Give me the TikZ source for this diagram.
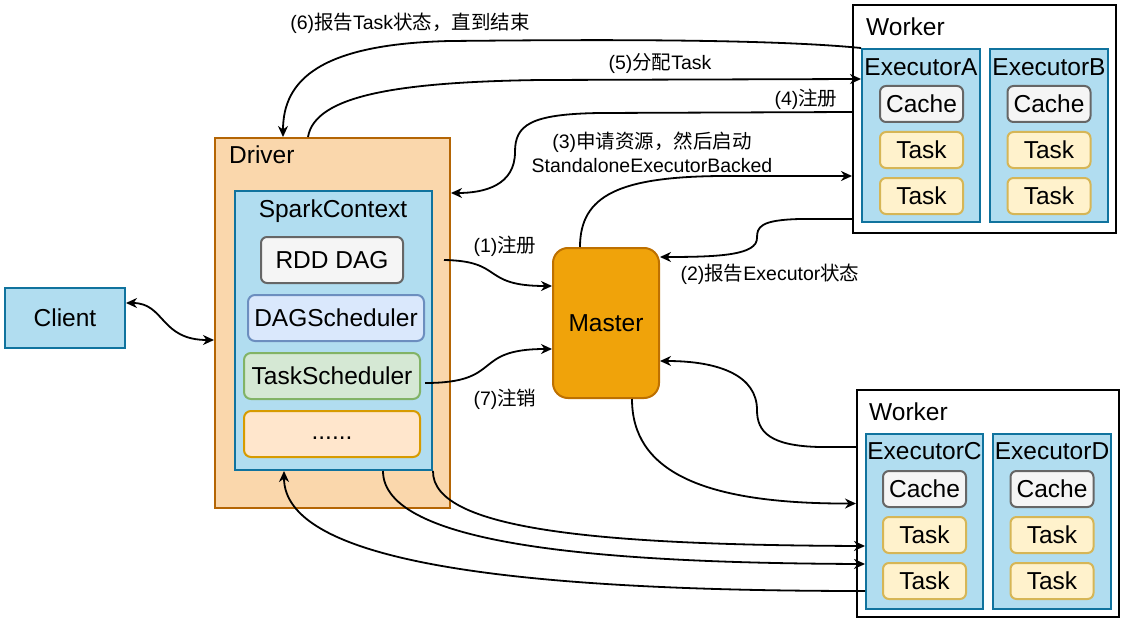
\documentclass[tikz,border=0pt]{standalone}
\usepackage{fontspec}
\setmainfont{Liberation Sans}
\newfontfamily\cjk{Noto Sans CJK SC}
\usetikzlibrary{arrows.meta}
\definecolor{lbF}{HTML}{B1DDF0}\definecolor{lbS}{HTML}{10739E}
\definecolor{drF}{HTML}{FAD7AC}\definecolor{drS}{HTML}{B46504}
\definecolor{msF}{HTML}{F0A30A}\definecolor{msS}{HTML}{BD7000}
\definecolor{gyF}{HTML}{F5F5F5}\definecolor{gyS}{HTML}{666666}
\definecolor{dgF}{HTML}{DAE8FC}\definecolor{dgS}{HTML}{6C8EBF}
\definecolor{grF}{HTML}{D5E8D4}\definecolor{grS}{HTML}{82B366}
\definecolor{orF}{HTML}{FFE6CC}\definecolor{orS}{HTML}{D79B00}
\definecolor{tkF}{HTML}{FFF2CC}\definecolor{tkS}{HTML}{D6B656}
\newcommand\nodefont{\fontsize{24.5}{29}\selectfont}
\newcommand\labfont{\fontsize{19.5}{24}\selectfont}
\begin{document}
\begin{tikzpicture}[x=1pt,y=-1pt,
  base/.style={line width=2pt, inner sep=0pt, font=\nodefont},
  bluebox/.style={base, draw=lbS, fill=lbF},
  grayrr/.style={base, draw=gyS, fill=gyF, rounded corners=6pt, minimum width=83pt, minimum height=36pt},
  taskrr/.style={base, draw=tkS, fill=tkF, rounded corners=6pt, minimum width=83pt, minimum height=36pt},
  title/.style={inner sep=0pt, font=\nodefont},
  lab/.style={inner sep=0pt, font=\labfont, anchor=base, align=center},
  conn/.style={line width=1.8pt, -{Stealth[length=11pt,width=10pt,inset=3.5pt]}},
  conn2/.style={line width=1.8pt, {Stealth[length=11pt,width=10pt,inset=3.5pt]}-{Stealth[length=11pt,width=10pt,inset=3.5pt]}}
]
\useasboundingbox (0,0) rectangle (1127,623);
\fill[white] (0,0) rectangle (1127,623);

% Client
\node[bluebox, minimum width=120pt, minimum height=60pt] (client) at (65,318) {Client};

% Driver
\node[base, draw=drS, fill=drF, minimum width=235pt, minimum height=370pt] (driver) at (332.5,323) {};
\node[title, anchor=west] (drt) at (229,155) {Driver};
\node[bluebox, minimum width=197pt, minimum height=279pt] (sc) at (333.5,330.5) {};
\node[title, anchor=base] (sct) at (333,217) {SparkContext};
\node[grayrr, minimum width=142pt, minimum height=46pt] (rdd) at (332,260) {RDD DAG};
\node[base, draw=dgS, fill=dgF, rounded corners=7pt, minimum width=176pt, minimum height=46pt] (dags) at (336,318) {DAGScheduler};
\node[base, draw=grS, fill=grF, rounded corners=7pt, minimum width=176pt, minimum height=46pt] (tsch) at (332,376) {TaskScheduler};
\node[base, draw=orS, fill=orF, rounded corners=7pt, minimum width=176pt, minimum height=46pt] (dots) at (332,434) {\vphantom{Ay}......};

% Master
\node[base, draw=msS, fill=msF, rounded corners=15pt, minimum width=106pt, minimum height=150pt] (master) at (606,323) {Master};

% Worker 1
\node[base, draw=black, fill=white, minimum width=263pt, minimum height=228pt] (w1) at (984.5,119) {};
\node[title, anchor=west] (w1t) at (866,27) {Worker};
\node[bluebox, minimum width=118pt, minimum height=173pt] (exA) at (921,135.5) {};
\node[bluebox, minimum width=118pt, minimum height=173pt] (exB) at (1049,135.5) {};
\node[title] (exAt) at (921,67) {ExecutorA};
\node[title] (exBt) at (1049,67) {ExecutorB};
\node[grayrr] (cA) at (921.5,104) {Cache};
\node[taskrr] (tA1) at (921.5,150) {Task};
\node[taskrr] (tA2) at (921.5,196) {Task};
\node[grayrr] (cB) at (1049,104) {Cache};
\node[taskrr] (tB1) at (1049,150) {Task};
\node[taskrr] (tB2) at (1049,196) {Task};

% Worker 2
\node[base, draw=black, fill=white, minimum width=262pt, minimum height=227pt] (w2) at (988,503.5) {};
\node[title, anchor=west] (w2t) at (869,412) {Worker};
\node[bluebox, minimum width=117pt, minimum height=175pt] (exC) at (924.5,521.5) {};
\node[bluebox, minimum width=118pt, minimum height=175pt] (exD) at (1052,521.5) {};
\node[title] (exCt) at (924.5,451) {ExecutorC};
\node[title] (exDt) at (1052,451) {ExecutorD};
\node[grayrr] (cC) at (924.5,489) {Cache};
\node[taskrr] (tC1) at (924.5,535) {Task};
\node[taskrr] (tC2) at (924.5,581) {Task};
\node[grayrr] (cD) at (1052,489) {Cache};
\node[taskrr] (tD1) at (1052,535) {Task};
\node[taskrr] (tD2) at (1052,581) {Task};

% Labels
\node[lab] (l6) at (410,29.2) {(6){\cjk 报告}Task{\cjk 状态，直到结束}};
\node[lab] (l5) at (660,69.2) {(5){\cjk 分配}Task};
\node[lab] (l4) at (806,105.2) {(4){\cjk 注册}};
\node[lab] (l3) at (652,172.2) {(3){\cjk 申请资源，然后启动}\\StandaloneExecutorBacked};
\node[lab] (l1) at (505,252.2) {(1){\cjk 注册}};
\node[lab] (l2) at (770,280.2) {(2){\cjk 报告}Executor{\cjk 状态}};
\node[lab] (l7) at (505,405.2) {(7){\cjk 注销}};

% Connectors
\draw[conn2] ([yshift=15pt]client.east) .. controls (165,303) and (160,340) .. ([yshift=-17pt]driver.west);
\draw[conn] (exA.north west) .. controls (760,38) and (560,40) .. (450,41) .. controls (320,44) and (283,80) .. ([xshift=-49.5pt]driver.north);
\draw[conn] ([xshift=-24.5pt]driver.north) .. controls (315,95) and (400,82) .. (540,80) -- ([yshift=56.5pt]exA.west);
\draw[conn] ([yshift=7pt]w1.west) -- (600,113) .. controls (530,114) and (515,125) .. (515,152) .. controls (515,185) and (485,193) .. ([yshift=130pt]driver.east);
\draw[conn] ([xshift=-26pt]master.north) .. controls (580,195) and (620,177) .. (720,176) -- ([yshift=-57pt]w1.west);
\draw[conn] ([yshift=-100pt]w1.west) -- (800,219) .. controls (760,220) and (757,227) .. (757,238) .. controls (757,255) and (720,257) .. ([yshift=66pt]master.east);
\draw[conn] ([xshift=40pt]rdd.east) .. controls (505,261) and (480,286) .. ([yshift=37pt]master.west);
\draw[conn] ([xshift=4pt,yshift=-7pt]tsch.east) .. controls (505,383) and (470,349) .. ([yshift=-26pt]master.west);
\draw[conn] ([yshift=56.5pt]w2.west) -- (820,447) .. controls (770,446) and (757,432) .. (757,410) .. controls (757,376) and (720,361) .. ([yshift=-38pt]master.east);
\draw[conn] ([xshift=26pt]master.south) .. controls (632,470) and (700,504) .. (w2.west);
\draw[conn] (sc.south east) .. controls (432,530) and (600,545) .. ([yshift=-24.5pt]exC.west);
\draw[conn] ([xshift=49.5pt]sc.south) .. controls (383,545) and (600,563) .. ([yshift=-42.5pt]exC.west);
\draw[conn] ([yshift=-69.5pt]exC.west) .. controls (500,591) and (284,560) .. ([xshift=-49.5pt]sc.south);
\end{tikzpicture}
\end{document}
